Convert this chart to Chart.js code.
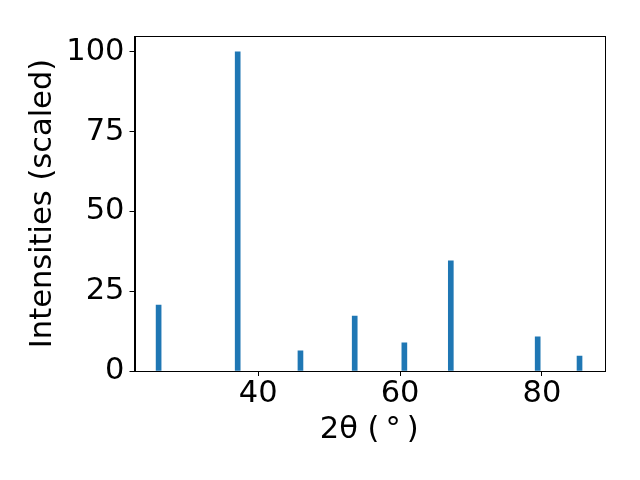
<!DOCTYPE html>
<html>
<head>
<meta charset="utf-8">
<script src="https://cdn.jsdelivr.net/npm/chart.js@4"></script>
<style>
  html, body { margin: 0; padding: 0; background: #fff; }
  #wrap { width: 640px; height: 480px; }
</style>
</head>
<body>
<div id="wrap"><canvas id="myChart" width="640" height="480"></canvas></div>
<script>
// peak positions (2theta, degrees) and scaled intensities
const angles = [25.95, 37.1, 45.95, 53.6, 60.6, 67.15, 79.4, 85.3];
const intensities = [20.7, 100, 6.3, 17.2, 8.8, 34.5, 10.7, 4.7];
const xTicks = [40, 60, 80];
const yTicks = [0, 25, 50, 75, 100];

const frame = {
  id: 'frame',
  afterDraw(chart) {
    const a = chart.chartArea, c = chart.ctx;
    c.save();
    c.strokeStyle = '#000';
    c.lineWidth = 1;
    c.strokeRect(Math.round(a.left) + 0.5, Math.round(a.top) + 0.5,
      Math.round(a.right - a.left), Math.round(a.bottom - a.top));
    c.restore();
  }
};

document.addEventListener("DOMContentLoaded", function() {
  Chart.defaults.font.family = "'DejaVu Sans', sans-serif";
  Chart.defaults.color = '#000';
  var ctx = document.getElementById("myChart").getContext('2d');
  new Chart(ctx, {
    type: 'bar',
    data: {
      datasets: [{
        data: angles.map((a, i) => ({x: a, y: intensities[i]})),
        backgroundColor: '#1f77b4',
        barThickness: 5
      }]
    },
    options: {
      responsive: false,
      animation: false,
      layout: { padding: { left: 0, top: 36, right: 36, bottom: 0 } },
      plugins: { legend: { display: false }, tooltip: { enabled: false } },
      scales: {
        x: {
          type: 'linear',
          min: 22.55,
          max: 88.75,
          offset: false,
          afterBuildTicks: s => { s.ticks = xTicks.map(v => ({value: v})); },
          afterFit: s => { s.height = 109; },
          grid: { drawOnChartArea: false, offset: false, tickLength: 5, color: '#000' },
          border: { color: '#000' },
          ticks: { font: { size: 30.5 }, padding: 0, maxRotation: 0 },
          title: { display: true, text: '2θ (\u2009°\u2009)', font: { size: 30.5 }, padding: { top: 0, bottom: 32 } }
        },
        y: {
          min: 0,
          max: 105,
          afterBuildTicks: s => { s.ticks = yTicks.map(v => ({value: v})); },
          afterFit: s => { s.width = 134.5; },
          grid: { drawOnChartArea: false, tickLength: 5, color: '#000' },
          border: { color: '#000' },
          ticks: { font: { size: 30.5 }, padding: 5 },
          title: { display: true, text: 'Intensities (scaled)', font: { size: 30.5 }, padding: { top: 25, bottom: 0 } }
        }
      }
    },
    plugins: [frame]
  });
});
</script>
</body>
</html>
